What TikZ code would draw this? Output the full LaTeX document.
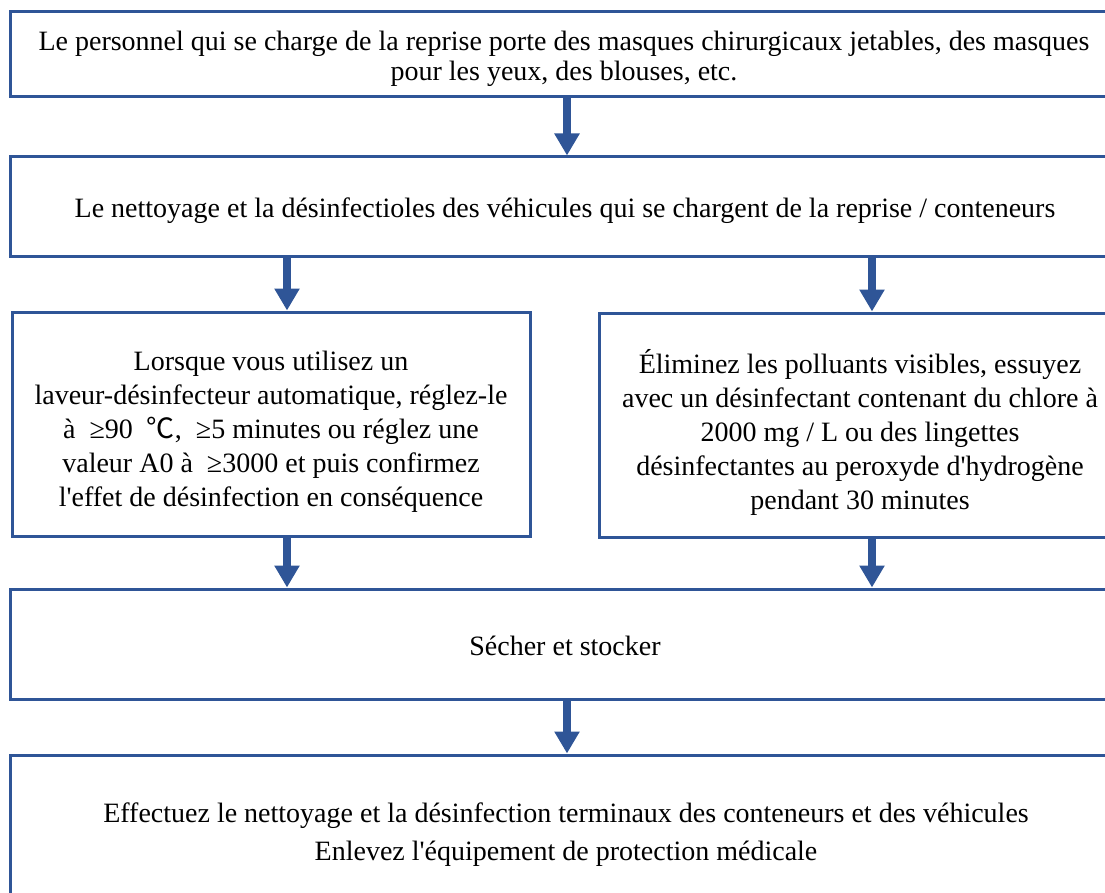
\documentclass[tikz,border=0pt]{standalone}
\usepackage{fontspec}
\setmainfont{Liberation Serif}
\newfontfamily\cjk{Noto Sans CJK SC}
\usetikzlibrary{arrows.meta}
\definecolor{bl}{RGB}{47,85,151}
\newcommand{\degC}{{\cjk ℃}}
\newcommand{\wgap}{\hspace{0.5em}}
\tikzset{
  box/.style={draw=bl, line width=3pt, rectangle, inner sep=0pt},
  txt/.style={align=center, inner sep=0pt, text=black},
  arr/.style={draw=bl, fill=bl, line width=8pt, -{Triangle[width=24pt,length=22pt]}}
}
\begin{document}
\begin{tikzpicture}[x=1pt,y=-1pt]
\useasboundingbox (0,0) rectangle (1105,893);
\clip (0,0) rectangle (1105,893);
\fill[white] (0,0) rectangle (1105,893);
% boxes
\node[box, minimum width=1112pt, minimum height=85pt] (b1) at (566,54.5) {};
\node[box, minimum width=1112pt, minimum height=100pt] (b2) at (566,207) {};
\node[box, minimum width=518pt, minimum height=224pt] (b3) at (271,424) {};
\node[box, minimum width=523pt, minimum height=224pt] (b4) at (860.5,425) {};
\node[box, minimum width=1112pt, minimum height=110pt] (b5) at (566,644) {};
\node[box, minimum width=1112pt, minimum height=165pt] (b6) at (566,837.5) {};
% texts
\node[txt, font=\fontsize{28}{30}\selectfont] (t1) at (564,59)
 {Le personnel qui se charge de la reprise porte des masques chirurgicaux jetables, des masques\\pour les yeux, des blouses, etc.};
\node[txt, font=\fontsize{28}{34}\selectfont] (t2) at (565,211)
 {Le nettoyage et la désinfectioles des véhicules qui se chargent de la reprise / conteneurs};
\node[txt, font=\fontsize{28}{34}\selectfont] (t3) at (271,432)
 {Lorsque vous utilisez un\\laveur-désinfecteur automatique, réglez-le\\à\wgap ≥90\wgap\degC,\wgap ≥5 minutes ou réglez une\\valeur A0 à\wgap ≥3000 et puis confirmez\\l\textquotesingle effet de désinfection en conséquence};
\node[txt, font=\fontsize{28}{34}\selectfont] (t4) at (860,432)
 {Éliminez les polluants visibles, essuyez\\avec un désinfectant contenant du chlore à\\2000 mg / L ou des lingettes\\désinfectantes au peroxyde d\textquotesingle hydrogène\\pendant 30 minutes};
\node[txt, font=\fontsize{28}{34}\selectfont] (t5) at (565,646) {Sécher et stocker};
\node[txt, font=\fontsize{28}{38}\selectfont] (t6) at (566,835)
 {Effectuez le nettoyage et la désinfection terminaux des conteneurs et des véhicules\\Enlevez l\textquotesingle équipement de protection médicale};
% arrow columns
\coordinate (cl) at (287,0);
\coordinate (cr) at (872,0);
\coordinate (cm) at (567,0);
\draw[arr] (b1.south -| cm) -- (b2.north -| cm);
\draw[arr] (b2.south -| cl) -- (b3.north -| cl);
\draw[arr] (b2.south -| cr) -- (b4.north -| cr);
\draw[arr] (b3.south -| cl) -- (b5.north -| cl);
\draw[arr] (b4.south -| cr) -- (b5.north -| cr);
\draw[arr] (b5.south -| cm) -- (b6.north -| cm);
\end{tikzpicture}
\end{document}
